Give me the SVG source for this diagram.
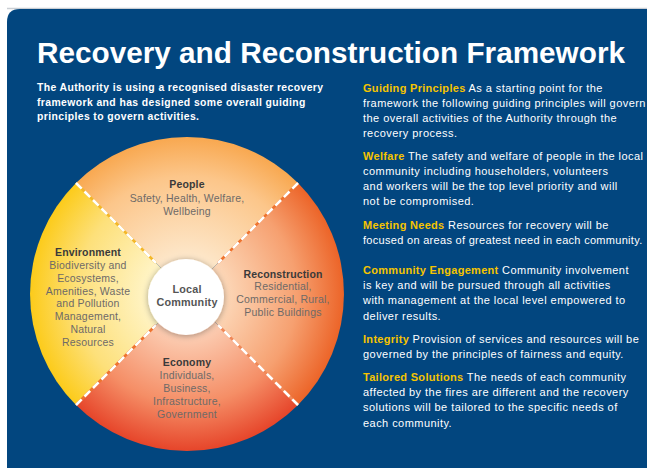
<svg xmlns="http://www.w3.org/2000/svg" width="647" height="468" viewBox="0 0 647 468">
<defs>
<style>
.title{font-family:"Liberation Sans",Arial,sans-serif;font-weight:bold;fill:#fff}
.intro{font-family:"Liberation Sans",Arial,sans-serif;font-weight:bold;font-size:10.4px;letter-spacing:0.4px;fill:#fff}
.body{font-family:"Liberation Sans",Arial,sans-serif;font-size:11px;letter-spacing:0.45px;fill:#fff}
.hl{font-weight:bold;fill:#f5c400;letter-spacing:0.3px}
.wh{font-family:"Liberation Sans",Arial,sans-serif;font-weight:bold;font-size:10.5px;letter-spacing:0.15px;fill:#3a3a3a;text-anchor:middle}
.wb{font-family:"Liberation Sans",Arial,sans-serif;font-size:10.5px;letter-spacing:0.2px;fill:#6e6a68;text-anchor:middle}
.lc{font-family:"Liberation Sans",Arial,sans-serif;font-weight:bold;font-size:10.8px;letter-spacing:0.2px;fill:#555;text-anchor:middle}
.dash{stroke:#fff;stroke-width:2.6;stroke-dasharray:8 4;fill:none}
</style>
<radialGradient id="gTop" gradientUnits="userSpaceOnUse" cx="187" cy="294" r="157">
<stop offset="0.25" stop-color="#fde6c8"/><stop offset="0.75" stop-color="#fcc68a"/><stop offset="1" stop-color="#f8a850"/>
</radialGradient>
<radialGradient id="gRight" gradientUnits="userSpaceOnUse" cx="187" cy="294" r="157">
<stop offset="0.25" stop-color="#fcd6b6"/><stop offset="0.7" stop-color="#f6a070"/><stop offset="1" stop-color="#ec6428"/>
</radialGradient>
<radialGradient id="gBottom" gradientUnits="userSpaceOnUse" cx="187" cy="294" r="157">
<stop offset="0.25" stop-color="#fcd0b6"/><stop offset="0.7" stop-color="#f58e66"/><stop offset="1" stop-color="#e6452a"/>
</radialGradient>
<radialGradient id="gLeft" gradientUnits="userSpaceOnUse" cx="187" cy="294" r="157">
<stop offset="0.25" stop-color="#fff4c6"/><stop offset="0.7" stop-color="#fde07a"/><stop offset="1" stop-color="#fccb1a"/>
</radialGradient>
<filter id="sh" x="-30%" y="-30%" width="160%" height="160%">
<feGaussianBlur in="SourceAlpha" stdDeviation="3"/>
<feOffset dx="0" dy="1" result="b"/>
<feFlood flood-color="#000" flood-opacity="0.35"/>
<feComposite in2="b" operator="in"/>
<feMerge><feMergeNode/><feMergeNode in="SourceGraphic"/></feMerge>
</filter>
</defs>
<rect width="647" height="468" fill="#ffffff"/>
<line x1="7" y1="8.5" x2="647" y2="8.5" stroke="#c9ced4" stroke-width="1.5"/>
<path d="M7,468 L7,22 Q7,9 20,9 L647,9 L647,468 Z" fill="#02467f"/>
<text class="title" x="37" y="63" font-size="29" textLength="588" lengthAdjust="spacingAndGlyphs">Recovery and Reconstruction Framework</text>
<text class="intro"><tspan x="37" y="91">The Authority is using a recognised disaster recovery</tspan><tspan x="37" y="106">framework and has designed some overall guiding</tspan><tspan x="37" y="120">principles to govern activities.</tspan></text>

<g id="wheel">
<g id="people"><path d="M187,294 L76,183 A157,157 0 0 1 298,183 Z" fill="url(#gTop)"/>
<text class="wh" x="187" y="188">People</text>
<text class="wb"><tspan x="187" y="202">Safety, Health, Welfare,</tspan><tspan x="187" y="215">Wellbeing</tspan></text></g>
<g id="reconstruction"><path d="M187,294 L298,183 A157,157 0 0 1 298,405 Z" fill="url(#gRight)"/>
<text class="wh" x="283" y="278">Reconstruction</text>
<text class="wb"><tspan x="283" y="290">Residential,</tspan><tspan x="283" y="303">Commercial, Rural,</tspan><tspan x="283" y="316">Public Buildings</tspan></text></g>
<g id="economy"><path d="M187,294 L298,405 A157,157 0 0 1 76,405 Z" fill="url(#gBottom)"/>
<text class="wh" x="187" y="366">Economy</text>
<text class="wb"><tspan x="187" y="379">Individuals,</tspan><tspan x="187" y="392">Business,</tspan><tspan x="187" y="405">Infrastructure,</tspan><tspan x="187" y="418">Government</tspan></text></g>
<g id="environment"><path d="M187,294 L76,405 A157,157 0 0 1 76,183 Z" fill="url(#gLeft)"/>
<text class="wh" x="88" y="256">Environment</text>
<text class="wb"><tspan x="88" y="269">Biodiversity and</tspan><tspan x="88" y="282">Ecosystems,</tspan><tspan x="88" y="295">Amenities, Waste</tspan><tspan x="88" y="307">and Pollution</tspan><tspan x="88" y="320">Management,</tspan><tspan x="88" y="333">Natural</tspan><tspan x="88" y="346">Resources</tspan></text></g>
</g>

<g id="connectors">
<line x1="76" y1="183" x2="156" y2="263" stroke="#f4b82a" stroke-width="2.6"/>
<line x1="298" y1="183" x2="218" y2="263" stroke="#ef7430" stroke-width="2.6"/>
<line x1="76" y1="405" x2="156" y2="325" stroke="#ef7430" stroke-width="2.6"/>
<line x1="298" y1="405" x2="218" y2="325" stroke="#f08a5a" stroke-width="2.6"/>
<line class="dash" x1="76" y1="183" x2="156" y2="263"/>
<line class="dash" x1="298" y1="183" x2="218" y2="263"/>
<line class="dash" x1="76" y1="405" x2="156" y2="325"/>
<line class="dash" x1="298" y1="405" x2="218" y2="325"/>
</g>

<g id="local-community">
<circle cx="186" cy="297" r="38" fill="#ffffff" filter="url(#sh)"/>
<text class="lc"><tspan x="187" y="293">Local</tspan><tspan x="187" y="306">Community</tspan></text>
</g>

<g id="principles">
<text class="body"><tspan x="363" y="92"><tspan class="hl">Guiding Principles</tspan> As a starting point for the</tspan><tspan x="363" y="107">framework the following guiding principles will govern</tspan><tspan x="363" y="122">the overall activities of the Authority through the</tspan><tspan x="363" y="137">recovery process.</tspan></text>
<text class="body"><tspan x="363" y="160"><tspan class="hl">Welfare</tspan> The safety and welfare of people in the local</tspan><tspan x="363" y="175">community including householders, volunteers</tspan><tspan x="363" y="190">and workers will be the top level priority and will</tspan><tspan x="363" y="205">not be compromised.</tspan></text>
<text class="body"><tspan x="363" y="229"><tspan class="hl">Meeting Needs</tspan> Resources for recovery will be</tspan><tspan x="363" y="244" letter-spacing="0.3px">focused on areas of greatest need in each community.</tspan></text>
<text class="body"><tspan x="363" y="274"><tspan class="hl">Community Engagement</tspan> Community involvement</tspan><tspan x="363" y="289">is key and will be pursued through all activities</tspan><tspan x="363" y="304">with management at the local level empowered to</tspan><tspan x="363" y="320">deliver results.</tspan></text>
<text class="body"><tspan x="363" y="343"><tspan class="hl">Integrity</tspan> Provision of services and resources will be</tspan><tspan x="363" y="358">governed by the principles of fairness and equity.</tspan></text>
<text class="body"><tspan x="363" y="381"><tspan class="hl">Tailored Solutions</tspan> The needs of each community</tspan><tspan x="363" y="396">affected by the fires are different and the recovery</tspan><tspan x="363" y="411">solutions will be tailored to the specific needs of</tspan><tspan x="363" y="427">each community.</tspan></text>
</g>
</svg>
